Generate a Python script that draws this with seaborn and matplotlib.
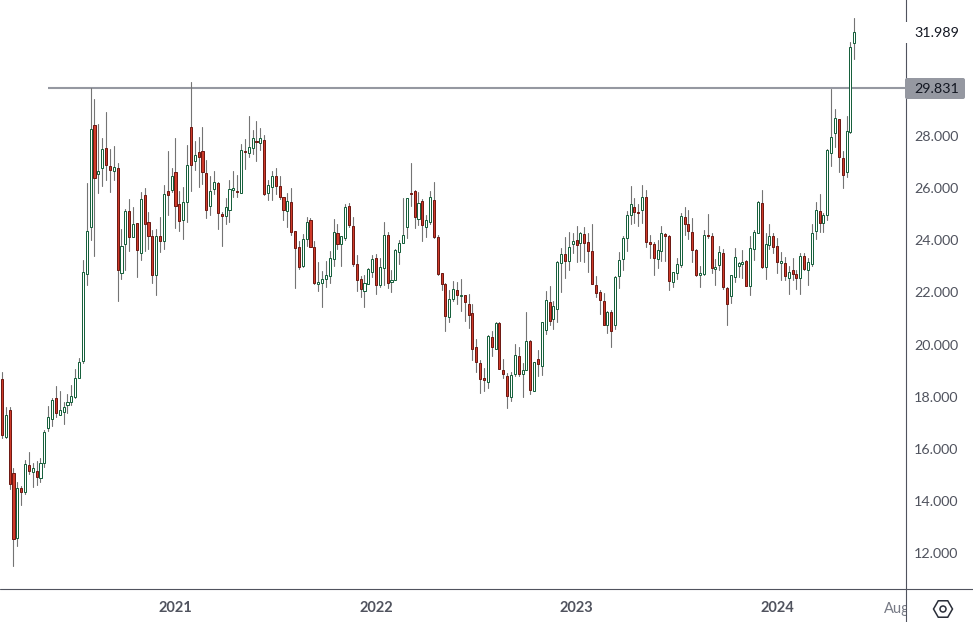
import numpy as np
import pandas as pd
import matplotlib
matplotlib.use('Agg')
import matplotlib.pyplot as plt
import seaborn as sns
from matplotlib.lines import Line2D
from matplotlib.patches import Rectangle, FancyBboxPatch, RegularPolygon, Circle
from matplotlib.transforms import Bbox, IdentityTransform

# Weekly candles, first one is half hidden behind the left edge
first_week = '2020-02-17'

highs = [18.60,
    18.94, 17.59, 17.59, 15.25, 14.71, 14.57, 15.57, 15.87, 15.44, 15.52, 15.63, 16.71, 17.64, 17.93, 18.41, 18.22, 17.79, 18.10, 18.45, 19.05, 19.48, 23.25,
    26.19, 29.83, 29.41, 28.46, 27.91, 28.92, 27.52, 27.62, 26.96, 24.44, 25.20, 25.57, 25.28, 24.65, 25.86, 26.01, 25.08, 24.38, 24.44, 24.88, 26.11, 27.43, 26.78, 27.91, 25.89, 26.05, 27.66, 30.06, 27.81, 27.95, 28.35, 27.07, 26.46, 26.65, 26.23,
    25.10, 25.62, 26.31, 26.66, 26.50, 27.69, 27.88, 28.77, 28.23, 28.57, 28.31, 28.04, 26.31, 26.66, 26.76, 26.46, 25.67, 25.80, 26.00, 24.34, 23.98, 24.24, 24.89, 24.85, 23.97, 23.16, 22.82, 23.20, 23.60, 24.81, 24.62, 24.15, 25.39, 25.42, 24.89, 23.43, 22.61, 22.65, 22.94, 23.43, 23.46, 23.31, 24.70, 24.32, 22.86, 23.68, 24.02, 25.61, 25.62, 26.96, 25.93, 25.85, 25.59, 24.95, 25.89, 26.23, 24.20, 22.75, 22.35, 22.09,
    22.44, 22.40, 22.50, 21.90, 21.94, 21.56, 20.21, 19.41, 19.09, 20.37, 20.52, 20.85, 20.85, 19.43, 18.90, 18.94, 20.01, 19.90, 19.28, 21.24, 20.16, 19.34, 19.79, 20.88, 22.06, 22.25, 21.67, 23.19, 23.69, 24.11, 24.32, 24.27, 24.55, 24.32, 24.51, 24.28, 24.63, 22.63, 22.08, 21.99, 21.29, 21.33, 22.61, 23.54, 24.17,
    25.11, 26.09, 25.63, 25.38, 26.12, 25.93, 24.21, 23.94, 24.01, 24.55, 24.27, 24.21, 22.77, 23.31, 25.04, 25.27, 25.15, 24.86, 23.66, 23.02, 24.38, 25.01, 24.27, 23.27, 23.78, 23.67, 22.21, 22.66, 23.69, 23.18, 23.63, 23.25, 24.17, 24.40, 25.50, 25.93, 24.27, 24.62, 24.27, 24.08, 23.54, 23.35, 23.00, 23.31, 22.86, 23.50, 23.50, 23.31, 24.62, 25.46, 25.78, 25.04,
    27.50, 29.82, 29.04, 28.65, 27.43, 28.76, 31.60, 32.52]

body_tops = [18.52,
    18.66, 17.28, 17.47, 15.06, 14.48, 14.48, 15.40, 15.36, 15.25, 15.13, 15.44, 16.63, 17.21, 17.86, 17.93, 17.47, 17.59, 17.78, 18.01, 18.70, 19.33, 22.77,
    24.35, 28.26, 28.41, 26.67, 27.49, 27.53, 26.84, 26.80, 26.76, 23.77, 25.11, 25.11, 24.61, 24.65, 25.57, 25.73, 24.69, 24.15, 24.15, 24.15, 25.77, 25.88, 26.46, 26.61, 25.38, 25.46, 26.88, 28.34, 27.26, 27.38, 27.42, 26.57, 25.88, 26.23, 26.19,
    25.01, 25.26, 25.95, 25.99, 25.89, 27.45, 27.42, 27.56, 27.91, 27.81, 27.91, 27.83, 26.11, 26.45, 26.45, 26.07, 25.65, 25.49, 25.45, 24.34, 23.73, 24.03, 24.69, 24.76, 23.73, 22.40, 22.50, 22.65, 23.31, 24.30, 24.26, 24.15, 25.26, 25.30, 24.53, 23.07, 22.50, 22.37, 22.88, 23.27, 23.31, 22.96, 24.19, 24.22, 22.49, 23.61, 23.88, 24.22, 25.61, 25.80, 25.88, 25.42, 25.49, 24.76, 25.65, 25.53, 24.11, 22.73, 22.32, 21.74,
    22.12, 22.08, 21.90, 21.89, 21.54, 21.20, 19.90, 19.28, 18.70, 20.34, 20.28, 20.82, 20.82, 19.01, 18.78, 18.82, 19.59, 19.55, 19.01, 20.12, 20.12, 19.32, 19.43, 20.85, 21.70, 21.62, 21.47, 23.16, 23.46, 23.46, 23.73, 23.96, 24.00, 24.27, 24.23, 23.92, 23.58, 22.27, 22.00, 21.66, 21.25, 21.24, 22.58, 23.23, 24.08,
    24.96, 25.38, 25.27, 25.08, 25.65, 25.65, 23.92, 23.85, 23.62, 24.27, 24.23, 24.15, 22.77, 23.08, 24.92, 24.88, 24.62, 24.31, 23.62, 22.74, 24.19, 24.19, 24.15, 22.99, 23.54, 23.50, 22.16, 22.66, 23.35, 23.12, 23.18, 23.20, 23.69, 24.31, 25.46, 25.42, 23.85, 24.15, 24.15, 23.77, 23.20, 23.12, 22.77, 22.85, 22.70, 23.39, 23.39, 23.16, 24.27, 25.15, 25.11, 24.96,
    27.45, 27.95, 28.68, 28.64, 27.14, 28.18, 31.40, 31.99]

body_bottoms = [17.68,
    16.54, 16.44, 14.66, 12.55, 12.59, 14.35, 14.35, 15.16, 15.10, 14.93, 14.89, 15.44, 16.81, 17.13, 17.38, 17.31, 17.42, 17.69, 17.78, 18.00, 18.70, 19.35,
    22.72, 24.49, 26.37, 26.56, 26.79, 26.87, 26.71, 26.67, 22.84, 22.76, 23.87, 24.12, 24.14, 23.64, 23.53, 24.64, 24.18, 22.68, 22.68, 23.96, 23.99, 25.75, 25.94, 25.33, 24.72, 24.76, 25.45, 26.87, 27.06, 27.21, 26.60, 25.18, 25.33, 25.96, 25.06,
    24.94, 24.94, 25.18, 25.91, 25.86, 25.80, 27.38, 27.36, 27.53, 27.77, 27.74, 25.79, 25.82, 26.05, 26.09, 25.65, 25.18, 25.13, 24.30, 23.71, 22.99, 23.02, 24.03, 23.73, 22.37, 22.33, 22.37, 22.52, 22.64, 23.29, 23.87, 23.87, 24.10, 24.58, 23.10, 22.49, 22.14, 22.06, 22.33, 22.79, 22.30, 22.30, 22.95, 22.37, 22.41, 22.49, 23.56, 23.88, 24.52, 25.77, 24.90, 24.83, 24.60, 24.52, 24.71, 24.14, 22.72, 22.33, 21.11, 21.07,
    21.76, 21.91, 21.86, 21.65, 21.15, 19.84, 19.31, 18.69, 18.62, 18.58, 19.90, 19.83, 19.05, 18.88, 18.04, 18.00, 18.85, 18.88, 18.85, 19.04, 18.27, 18.23, 19.27, 19.19, 20.57, 20.92, 20.96, 21.35, 23.12, 23.19, 23.19, 23.87, 23.83, 23.88, 23.91, 23.58, 22.34, 21.99, 21.72, 20.76, 20.73, 20.51, 20.73, 22.62, 23.27,
    24.10, 24.96, 25.08, 25.05, 25.15, 23.95, 23.85, 23.31, 23.27, 23.57, 24.18, 22.42, 22.38, 22.74, 23.04, 24.62, 24.35, 23.62, 22.66, 22.66, 22.72, 24.17, 22.93, 22.91, 23.04, 22.19, 21.55, 21.85, 22.58, 23.00, 23.08, 22.24, 22.24, 23.66, 24.27, 22.99, 22.97, 23.81, 23.76, 23.16, 23.12, 22.62, 22.57, 22.70, 22.57, 22.57, 22.91, 22.84, 23.07, 24.35, 24.65, 24.65,
    24.96, 27.36, 28.10, 27.18, 26.52, 26.60, 28.14, 31.56]

lows = [17.60,
    16.41, 16.41, 14.47, 11.50, 12.27, 13.84, 14.26, 15.04, 14.54, 14.62, 14.72, 15.31, 16.69, 16.87, 17.23, 17.31, 16.95, 17.38, 17.69, 17.96, 18.70, 19.28,
    22.29, 24.01, 23.40, 25.82, 26.09, 26.32, 25.86, 26.32, 21.67, 22.52, 22.86, 23.60, 24.14, 22.59, 23.25, 23.59, 23.67, 22.36, 21.90, 23.55, 23.67, 24.97, 25.87, 24.47, 24.36, 24.05, 24.70, 25.89, 26.70, 26.05, 26.16, 24.86, 24.97, 25.78, 24.44,
    23.79, 24.62, 24.70, 25.67, 25.67, 25.80, 26.73, 27.19, 27.31, 27.04, 27.46, 25.73, 25.54, 25.54, 25.77, 25.59, 24.78, 24.51, 24.20, 22.17, 22.90, 22.99, 23.78, 23.73, 22.31, 22.05, 21.44, 22.22, 22.37, 23.01, 23.66, 23.01, 24.01, 24.51, 23.02, 22.05, 21.82, 21.44, 22.33, 22.60, 21.94, 22.22, 22.28, 22.18, 22.03, 22.49, 23.10, 23.88, 24.10, 25.31, 24.48, 24.58, 23.97, 24.12, 24.62, 24.07, 22.67, 22.09, 20.50, 20.88,
    21.67, 21.56, 21.29, 20.90, 20.65, 19.41, 18.95, 18.15, 18.23, 18.35, 19.57, 19.81, 19.05, 18.73, 17.58, 17.83, 18.79, 18.79, 18.00, 19.04, 18.12, 18.23, 18.79, 18.83, 20.41, 20.75, 20.60, 20.87, 22.02, 22.55, 22.86, 23.50, 23.18, 23.22, 23.18, 22.80, 22.34, 21.84, 21.17, 20.76, 20.46, 19.92, 20.61, 22.17, 22.84,
    23.60, 24.63, 24.65, 24.53, 24.65, 23.76, 23.32, 22.67, 22.95, 23.22, 23.22, 22.10, 22.22, 22.53, 22.97, 24.21, 24.05, 23.18, 22.62, 22.22, 22.67, 24.08, 22.74, 22.29, 22.84, 22.13, 20.73, 21.61, 22.39, 22.58, 22.57, 22.24, 21.90, 23.25, 24.27, 22.95, 22.53, 23.68, 23.50, 22.74, 22.48, 22.48, 21.95, 22.48, 22.13, 21.95, 22.86, 22.29, 23.03, 24.03, 24.31, 24.31,
    24.78, 26.86, 27.59, 26.61, 26.02, 26.44, 28.13, 30.97]

# g = close above open, r = close below open
directions = ('g'
    'rgrrgrgrgrggggrggggggg'
    'ggrggrrgrggrgrgrrrgrgrgrrggrgrrrggr'
    'rgggrgrggr' 'grggrrrgrr' 'rggrrggggg' 'rggrrrrggg' 'rggrgggggr' 'rgrggrrrrg'
    'grgrrrrrrg' 'rgrrrggrgg' 'rgrggrgggr' 'ggrgrrrrrr' 'grggg'
    'ggrrgrrrgg' 'rrgggrrrrg' 'grrggrrggg' 'grgggrggrr' 'grgrrgrggg' 'rggggrrggg')

green_line = '#17603c'
red_line = '#6e1a14'
red_fill = '#cf3a2a'
wick_color = '#747474'
level_color = '#9598a1'
axis_color = '#50535e'

candles = pd.DataFrame({'high': highs, 'top': body_tops, 'bottom': body_bottoms, 'low': lows})
candles['direction'] = list(directions)
candles['week'] = pd.date_range(first_week, periods=len(candles), freq='7D')

sns.set_theme(style='white')
plt.rcParams['font.family'] = ['Lato', 'DejaVu Sans']

fig = plt.figure(figsize=(9.73, 6.22), dpi=100)
ax = fig.add_axes([0, 33 / 622, 905.5 / 973, 589 / 622])

# wicks
wicks = candles.melt(id_vars='week', value_vars=['high', 'low'], value_name='price')
sns.lineplot(data=wicks, x='week', y='price', units='week', estimator=None,
             color=wick_color, linewidth=0.8, ax=ax, zorder=2)

# level line sits under the candles
ax.hlines(29.831, pd.Timestamp('2020-05-18'), pd.Timestamp('2024-11-01'),
          color=level_color, linewidth=1.5, zorder=1)

# bodies
for direction, edge, fill in [('g', green_line, 'white'), ('r', red_line, red_fill)]:
    part = candles[candles['direction'] == direction]
    ax.bar(part['week'], part['top'] - part['bottom'], bottom=part['bottom'], width=3.7,
           color=fill, edgecolor=edge, linewidth=0.72, zorder=3)

week0 = pd.Timestamp('2020-02-24')
ax.set_xlim(week0 + pd.Timedelta(days=-0.5 * 7), week0 + pd.Timedelta(days=234.27 * 7))
ax.set_ylim(12 - 36 * 0.03837, 12 + 553 * 0.03837)

ax.yaxis.tick_right()
price_ticks = [12, 14, 16, 18, 20, 22, 24, 26, 28]
ax.set_yticks(price_ticks)
ax.set_yticklabels([f'{p:.3f}' for p in price_ticks], color='#50535e', fontsize=10.3)
year_ticks = pd.to_datetime(['2021-01-04', '2022-01-03', '2023-01-02', '2024-01-01', '2024-08-05'])
ax.set_xticks(year_ticks)
ax.set_xticklabels(['2021', '2022', '2023', '2024', 'Aug'], color='#50535e', fontsize=10.5, fontweight='bold')
ax.tick_params(axis='y', length=0, pad=6.3)
ax.tick_params(axis='x', length=0, pad=9)
ax.set_xlabel('')
ax.set_ylabel('')
aug = ax.get_xticklabels()[-1]
aug.set_fontweight('normal')
aug.set_color('#787b86')
aug.set_clip_box(Bbox([[0, 0], [905.5, 622]]))
aug.set_clip_on(True)

for side in ['top', 'left', 'bottom']:
    ax.spines[side].set_visible(False)
ax.spines['right'].set_color(axis_color)
ax.spines['right'].set_linewidth(0.8)
ax.grid(False)

# price labels on the scale
pixels = IdentityTransform()
label_x = ax.get_yaxis_transform()
ax.add_patch(Rectangle((904, 622 - 43), 60, 21, transform=pixels, facecolor='white',
                       edgecolor='none', clip_on=False, zorder=4))
ax.add_patch(FancyBboxPatch((907, 622 - 97), 56, 17, boxstyle='round,pad=2,rounding_size=2', transform=pixels,
                            facecolor=level_color, edgecolor='none', clip_on=False, zorder=4))
for value, colour in [(31.989, '#131722'), (29.831, '#131722')]:
    ax.annotate(f'{value:.3f}', xy=(1, value), xycoords=label_x, xytext=(6.3, 0), textcoords='offset points',
                va='center_baseline', ha='left', color=colour, fontsize=10.3, zorder=5, annotation_clip=False)

# axis lines that run past the axes, settings icon
fig.add_artist(Line2D([905.5, 905.5], [0, 33], transform=pixels, color=axis_color, linewidth=0.8))
fig.add_artist(Line2D([0, 973], [33, 33], transform=pixels, color=axis_color, linewidth=0.8))
fig.add_artist(RegularPolygon((943, 13), 6, radius=9.5, orientation=np.pi / 2, transform=pixels,
                              facecolor='none', edgecolor='#2a2e39', linewidth=1.1))
fig.add_artist(Circle((943, 13), 3, transform=pixels, facecolor='none', edgecolor='#2a2e39', linewidth=1.1))

fig.savefig('out.png', dpi=100)
